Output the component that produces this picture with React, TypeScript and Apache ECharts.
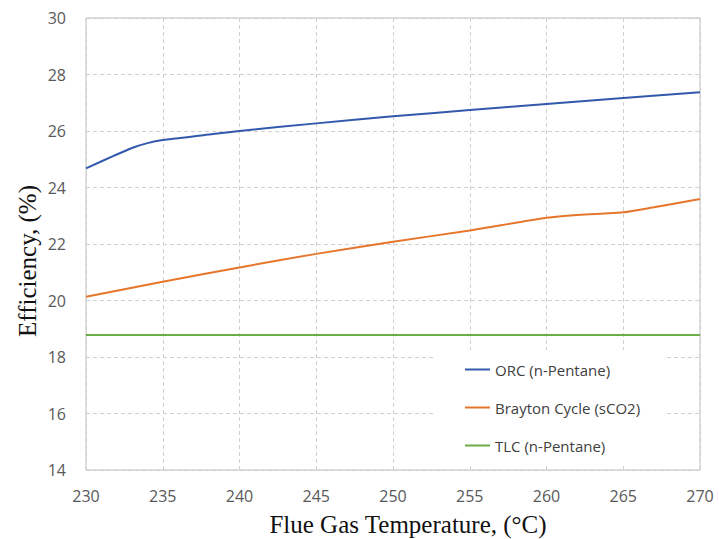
import React, { useEffect, useRef } from "react";
import * as echarts from "echarts";

const xTicks = [230, 235, 240, 245, 250, 255, 260, 265, 270];
const yTicks = [14, 16, 18, 20, 22, 24, 26, 28, 30];

const orcTemps = [230, 231.8, 233, 234, 235, 237.5, 240, 245, 250, 255, 260, 265, 270];
const orcEff = [24.68, 25.12, 25.4, 25.57, 25.68, 25.84, 26.0, 26.27, 26.52, 26.74, 26.96, 27.17, 27.37];

const braytonTemps = [230, 235, 240, 245, 250, 255, 260, 262, 265, 267, 270];
const braytonEff = [20.13, 20.66, 21.17, 21.65, 22.08, 22.48, 22.93, 23.03, 23.12, 23.3, 23.59];

const tlcTemps = [230, 270];
const tlcEff = [18.78, 18.78];

const seriesNames = ["ORC (n-Pentane)", "Brayton Cycle (sCO2)", "TLC (n-Pentane)"];
const seriesColors = ["#3259ac", "#e5762c", "#6aac45"];

const zip = (xs: number[], ys: number[]) => xs.map((x, i) => [x, ys[i]]);

export default function App() {
  const ref = useRef<HTMLDivElement>(null);
  useEffect(() => {
    if (!ref.current) return;
    const chart = echarts.init(ref.current, undefined, { renderer: "svg" });
    const datasets = [zip(orcTemps, orcEff), zip(braytonTemps, braytonEff), zip(tlcTemps, tlcEff)];
    chart.setOption({
      animation: false,
      backgroundColor: "#ffffff",
      grid: {
        left: 86,
        right: 19,
        top: 18,
        bottom: 69,
        show: true,
        borderColor: "#bfbfbf",
        borderWidth: 1,
        backgroundColor: "transparent",
      },
      xAxis: {
        type: "value",
        min: xTicks[0],
        max: xTicks[xTicks.length - 1],
        interval: 5,
        axisLine: { show: false },
        axisTick: { show: false },
        axisLabel: {
          margin: 18,
          color: "#595959",
          fontSize: 16,
          fontFamily: "Open Sans",
        },
        splitLine: { show: true, lineStyle: { color: "#d0d0d0", type: [4, 3], width: 1 } },
      },
      yAxis: {
        type: "value",
        min: yTicks[0],
        max: yTicks[yTicks.length - 1],
        interval: 2,
        axisLine: { show: false },
        axisTick: { show: false },
        axisLabel: {
          margin: 20,
          color: "#595959",
          fontSize: 16,
          fontFamily: "Open Sans",
        },
        splitLine: { show: true, lineStyle: { color: "#d0d0d0", type: [4, 3], width: 1 } },
      },
      legend: {
        orient: "vertical",
        left: 436,
        top: 350,
        backgroundColor: "#ffffff",
        padding: [12, 24, 10, 29],
        itemGap: 23,
        itemWidth: 25,
        itemHeight: 2,
        icon: "rect",
        textStyle: { color: "#404040", fontSize: 15, fontFamily: "Open Sans" },
        data: seriesNames,
      },
      graphic: [
        {
          type: "text",
          x: 27,
          y: 261,
          rotation: Math.PI / 2,
          style: {
            text: "Efficiency, (%)",
            font: "25px 'Liberation Serif'",
            fill: "#111111",
            textAlign: "center",
            textVerticalAlign: "middle",
          },
        },
        {
          type: "text",
          x: 408,
          y: 524,
          style: {
            text: "Flue Gas Temperature, (°C)",
            font: "25px 'Liberation Serif'",
            fill: "#111111",
            textAlign: "center",
            textVerticalAlign: "middle",
          },
        },
      ],
      series: seriesNames.map((name, i) => ({
        name,
        type: "line",
        data: datasets[i],
        smooth: i === 2 ? false : 0.3,
        symbol: "none",
        lineStyle: { color: seriesColors[i], width: 2 },
        itemStyle: { color: seriesColors[i] },
        z: 3,
      })),
    });
    return () => chart.dispose();
  }, []);
  return (
    <div
      ref={ref}
      style={{ position: "fixed", left: 0, top: 0, width: 719, height: 539 }}
    />
  );
}
